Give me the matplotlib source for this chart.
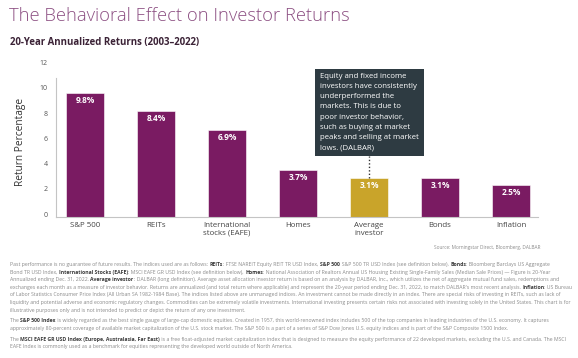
import matplotlib
matplotlib.use("Agg")
import matplotlib.pyplot as plt
import matplotlib.transforms as mtransforms
from matplotlib.patches import Rectangle

# ------------------------------------------------------------
# data
# ------------------------------------------------------------
categories = ["S&P 500", "REITs", "International\nstocks (EAFE)", "Homes",
              "Average\ninvestor", "Bonds", "Inflation"]
returns = [9.8, 8.4, 6.9, 3.7, 3.1, 3.1, 2.5]
highlight = "Average\ninvestor"
yticks = [0, 2, 4, 6, 8, 10, 12]

title = "The Behavioral Effect on Investor Returns"
subtitle = "20-Year Annualized Returns (2003\u20132022)"
callout = ("Equity and fixed income\ninvestors have consistently\nunderperformed the\n"
           "markets. This is due to\npoor investor behavior,\nsuch as buying at market\n"
           "peaks and selling at market\nlows. (DALBAR)")
source = "Source: Morningstar Direct, Bloomberg, DALBAR"

# fine print: each line is a list of (text, bold)
fine_print = [
    [("Past performance is no guarantee of future results. The indices used are as follows: ", False),
     ("REITs", True), (": FTSE NAREIT Equity REIT TR USD Index, ", False), ("S&P 500", True),
     (": S&P 500 TR USD Index (see definition below), ", False), ("Bonds", True),
     (": Bloomberg Barclays US Aggregate", False)],
    [("Bond TR USD Index, ", False), ("International Stocks (EAFE)", True),
     (": MSCI EAFE GR USD Index (see definition below), ", False), ("Homes", True),
     (": National Association of Realtors Annual US Housing Existing Single-Family Sales (Median Sale Prices) \u2014 Figure is 20-Year", False)],
    [("Annualized ending Dec. 31, 2022. ", False), ("Average investor", True),
     (": DALBAR (long definition). Average asset allocation investor return is based on an analysis by DALBAR, Inc., which utilizes the net of aggregate mutual fund sales, redemptions and", False)],
    [("exchanges each month as a measure of investor behavior. Returns are annualized (and total return where applicable) and represent the 20-year period ending Dec. 31, 2022, to match DALBAR's most recent analysis. ", False),
     ("Inflation", True), (": US Bureau", False)],
    [("of Labor Statistics Consumer Price Index (All Urban SA 1982-1984 Base). The indices listed above are unmanaged indices. An investment cannot be made directly in an index. There are special risks of investing in REITs, such as lack of", False)],
    [("liquidity and potential adverse and economic regulatory changes. Commodities can be extremely volatile investments. International investing presents certain risks not associated with investing solely in the United States. This chart is for", False)],
    [("illustrative purposes only and is not intended to predict or depict the return of any one investment.", False)],
    [("The ", False), ("S&P 500 Index", True),
     (" is widely regarded as the best single gauge of large-cap domestic equities. Created in 1957, this world-renowned index includes 500 of the top companies in leading industries of the U.S. economy. It captures", False)],
    [("approximately 80-percent coverage of available market capitalization of the U.S. stock market. The S&P 500 is a part of a series of S&P Dow Jones U.S. equity indices and is part of the S&P Composite 1500 Index.", False)],
    [("The ", False), ("MSCI EAFE GR USD Index (Europe, Australasia, Far East)", True),
     (" is a free float-adjusted market capitalization index that is designed to measure the equity performance of 22 developed markets, excluding the U.S. and Canada. The MSCI", False)],
    [("EAFE Index is commonly used as a benchmark for equities representing the developed world outside of North America.", False)],
]
fine_y = [265, 272.6, 280.2, 287.8, 295.4, 303, 310.6, 321, 328.6, 339.6, 347.2]

# ------------------------------------------------------------
# style
# ------------------------------------------------------------
plt.rcParams["font.family"] = ["Open Sans", "DejaVu Sans"]
PURPLE = "#7a1b62"
GOLD = "#c9a42a"
BOX = "#2e3b42"
W, H = 578, 358


def fx(x):
    return x / W


def fy(y):
    return 1 - y / H


fig = plt.figure(figsize=(W / 100, H / 100), dpi=100)
ax = fig.add_axes([fx(56), fy(217), fx(538 - 56), 151.5 / H])

x = list(range(len(categories)))
colors = [GOLD if c == highlight else PURPLE for c in categories]
ax.bar(x, returns, width=0.54, color=colors, edgecolor="white", linewidth=0.4)

for xi, v in zip(x, returns):
    ax.annotate(f"{v}%", (xi, v), xytext=(0, -7.5 * 0.72), textcoords="offset points",
                ha="center", va="center", color="white", fontsize=6.0, fontweight="bold")

ax.set_xlim(-0.41, 6.38)
ax.set_ylim(0, 12)
ax.set_yticks(yticks)
ax.set_yticklabels([str(t) for t in yticks])
ax.set_xticks(x)
ax.set_xticklabels(categories, linespacing=1.15)
ax.tick_params(axis="y", length=0, pad=6, labelsize=5, labelcolor="#555555")
ax.tick_params(axis="x", length=0, pad=3.5, labelsize=5.7, labelcolor="#444444")
# the original labels sit a few pixels higher than the bar scale
shift = mtransforms.ScaledTranslation(0, 3 / 100, fig.dpi_scale_trans)
for lab in ax.get_yticklabels():
    lab.set_transform(lab.get_transform() + shift)

for s in ["top", "right"]:
    ax.spines[s].set_visible(False)
for s in ["left", "bottom"]:
    ax.spines[s].set_color("#c4c4c4")
    ax.spines[s].set_linewidth(0.8)
ax.spines["left"].set_bounds(0, 11.0)

fig.text(fx(21), fy(142), "Return Percentage", rotation=90, fontsize=7.3,
         color="#333333", ha="center", va="center")

# callout box above the average investor bar
hi = categories.index(highlight)
box_w = 109 / 71
box_lo, box_hi = 4.83, 11.73
ax.add_patch(Rectangle((hi - box_w / 2, box_lo), box_w, box_hi - box_lo,
                       facecolor=BOX, edgecolor="none", clip_on=False, zorder=3))
ax.text(hi - box_w / 2 + 0.08, box_hi - 0.3, callout, color="white", fontsize=5.6,
        va="top", ha="left", linespacing=1.65, zorder=4, clip_on=False)
ax.plot([hi, hi], [returns[hi], box_lo], linestyle=(0, (1, 1.5)), color="#333333",
        linewidth=1.0, clip_on=False, zorder=2)

# titles
fig.text(fx(9), fy(16), title, fontsize=13.2, color="#8c4f82", fontweight="light",
         va="center", ha="left")
fig.text(fx(10), fy(43), subtitle, fontsize=6.9, color="#3b2236", fontweight="bold",
         va="center", ha="left")
fig.text(fx(541), fy(248), source, fontsize=3.4, color="#8a8a8a", va="center", ha="right")

# fine print, with bold runs chained onto the previous piece
for y, parts in zip(fine_y, fine_print):
    prev = None
    for txt, bold in parts:
        kw = dict(fontsize=3.7, color="#3a3a3a" if bold else "#8a8a8a",
                  fontweight="bold" if bold else "normal", va="bottom", ha="left")
        if prev is None:
            prev = fig.text(fx(10), fy(y + 2), txt, **kw)
        else:
            prev = ax.annotate(txt, xy=(1, 0), xycoords=prev, annotation_clip=False, **kw)

fig.savefig("out.png", dpi=100)
